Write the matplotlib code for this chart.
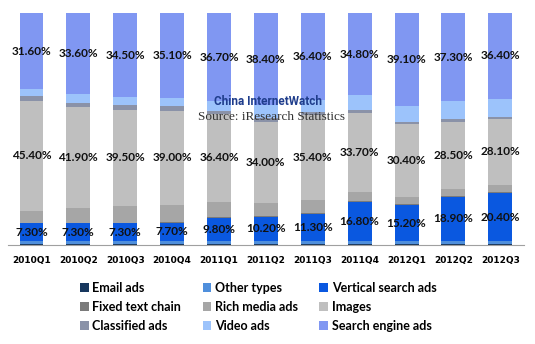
import numpy as np
import matplotlib.pyplot as plt

quarters = ["2010Q1", "2010Q2", "2010Q3", "2010Q4", "2011Q1", "2011Q2",
            "2011Q3", "2011Q4", "2012Q1", "2012Q2", "2012Q3"]

# share of each ad type (%), bottom to top
email = [0.2, 0.2, 0.2, 0.2, 0.2, 0.2, 0.2, 0.2, 0.2, 0.2, 0.2]
other_types = [1.4, 1.4, 1.3, 1.3, 1.4, 1.4, 1.4, 1.4, 1.4, 1.4, 1.4]
vertical = [7.3, 7.3, 7.3, 7.7, 9.8, 10.2, 11.3, 16.8, 15.2, 18.9, 20.4]
fixed_text = [0.3, 0.3, 0.3, 0.3, 0.3, 0.3, 0.3, 0.3, 0.3, 0.3, 0.3]
rich_media = [5.0, 5.9, 6.9, 6.9, 6.3, 5.3, 5.6, 3.8, 3.2, 2.8, 3.1]
images = [45.4, 41.9, 39.5, 39.0, 36.4, 34.0, 35.4, 33.7, 30.4, 28.5, 28.1]
classified = [2.1, 1.9, 1.9, 1.8, 1.5, 1.8, 1.6, 1.2, 1.0, 1.4, 0.9]
video = [2.8, 3.4, 3.3, 3.4, 3.9, 5.2, 4.8, 6.2, 6.6, 7.4, 7.6]
search_engine = [31.6, 33.6, 34.5, 35.1, 36.7, 38.4, 36.4, 34.8, 39.1, 37.3, 36.4]

series = [
    ("Email ads", email, "#17375e"),
    ("Other types", other_types, "#4f8fdc"),
    ("Vertical search ads", vertical, "#0a58e0"),
    ("Fixed text chain", fixed_text, "#7a7a7a"),
    ("Rich media ads", rich_media, "#a6a6a6"),
    ("Images", images, "#bfbfbf"),
    ("Classified ads", classified, "#8a92a8"),
    ("Video ads", video, "#9cc3fb"),
    ("Search engine ads", search_engine, "#8097f2"),
]
labelled = ["Vertical search ads", "Images", "Search engine ads"]

fig = plt.figure(figsize=(5.35, 3.44), dpi=100)
ax = fig.add_axes([0.015, 0.288, 0.964, 0.674])

x = np.arange(len(quarters))
totals = np.sum([np.array(v) for _, v, _ in series], axis=0)
bottom = np.zeros(len(quarters))
handles = {}
for name, vals, col in series:
    h = np.array(vals) / totals * 100
    b = ax.bar(x, h, 0.51, bottom=bottom, color=col, label=name, linewidth=0)
    handles[name] = b
    if name in labelled:
        for xi, yi, hi, v in zip(x, bottom, h, vals):
            ax.text(xi, yi + hi / 2, f"{v:.2f}%", ha="center", va="center",
                    fontsize=8.5, color="#111111", family="Lato", fontweight="bold")
    bottom += h

ax.set_xlim(-0.5, len(quarters) - 0.5)
ax.set_ylim(0, 100)
ax.set_yticks([])
ax.set_xticks(x)
ax.set_xticklabels(quarters, fontsize=6.5, fontweight="bold", family="DejaVu Sans")
ax.tick_params(axis="x", length=0, pad=8)
for s in ["top", "right", "left"]:
    ax.spines[s].set_visible(False)
ax.spines["bottom"].set_color("#a0a0a0")

# watermark
fig.text(0.50, 0.705, "China InternetWatch", ha="center", va="center",
         fontsize=8.5, fontweight="bold", color="#1f3d8c", family="Roboto")
fig.text(0.507, 0.66, "Source: iResearch Statistics", ha="center", va="center",
         fontsize=9.5, color="#333333", family="Liberation Serif")

order = ["Email ads", "Fixed text chain", "Classified ads",
         "Other types", "Rich media ads", "Video ads",
         "Vertical search ads", "Images", "Search engine ads"]
fig.legend([handles[n] for n in order], order, ncol=3, loc="upper left",
           bbox_to_anchor=(0.14, 0.195), frameon=False,
           prop={"family": "Lato", "size": 9, "weight": "bold"},
           handlelength=0.7, handleheight=0.7, handletextpad=0.3,
           columnspacing=1.7, labelspacing=0.55, borderaxespad=0)

fig.savefig("out.png", dpi=100)
